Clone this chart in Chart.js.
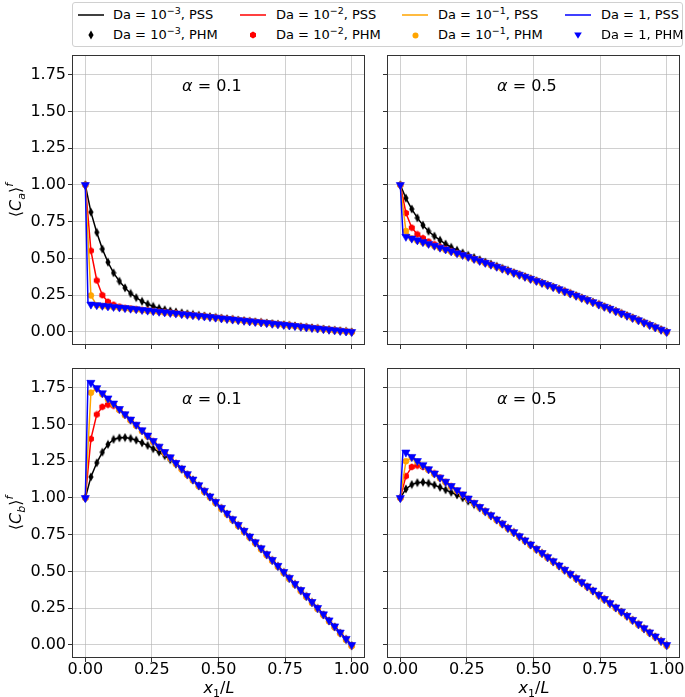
<!DOCTYPE html>
<html>
<head>
<meta charset="utf-8">
<script src="https://cdn.jsdelivr.net/npm/chart.js@4.4.1/dist/chart.umd.min.js"></script>
<style>
  html, body { margin: 0; padding: 0; background: #fff; }
  #fig { position: relative; width: 685px; height: 697px; overflow: hidden; font-family: "DejaVu Sans", sans-serif; color: #000; }
  #fig canvas { position: absolute; left: 0; top: 0; }
  #legendBox { position: absolute; left: 72px; top: 2px; width: 609px; height: 43px; border: 1px solid #d0d0d0; border-radius: 3px; background: #fff; }
  .lg { position: absolute; font-size: 13px; line-height: 16px; white-space: nowrap; }
  .lg sup { font-size: 9.5px; line-height: 0; vertical-align: 5px; }
  .hd { position: absolute; line-height: 0; }
  .title { position: absolute; font-size: 16px; line-height: 20px; white-space: nowrap; transform: translate(-50%, -50%); }
  .title.rot { transform: translate(-50%, -50%) rotate(-90deg); }
  .title sub { font-size: 11px; line-height: 0; vertical-align: -4px; font-style: normal; }
  .title sup { font-size: 11px; line-height: 0; vertical-align: 8px; }
</style>
</head>
<body>
<div id="fig">
  <canvas id="pTL" width="685" height="697"></canvas>
  <canvas id="pTR" width="685" height="697"></canvas>
  <canvas id="pBL" width="685" height="697"></canvas>
  <canvas id="pBR" width="685" height="697"></canvas>
  <div id="legendBox"></div>
  <div class="title rot" style="left:16px;top:200px">⟨<i>C</i><sub><i>a</i></sub>⟩<sup><i>f</i></sup></div>
  <div class="title rot" style="left:16px;top:513px">⟨<i>C</i><sub><i>b</i></sub>⟩<sup><i>f</i></sup></div>
  <div class="title" style="left:219px;top:688px"><i>x</i><sub>1</sub>/<i>L</i></div>
  <div class="title" style="left:534px;top:688px"><i>x</i><sub>1</sub>/<i>L</i></div>
</div>
<script>
// x positions of the PHM points (PSS lines share them, plus one early point for Da = 1)
const xPhm = [0, 0.021, 0.043, 0.064, 0.085, 0.106, 0.128, 0.149, 0.170, 0.191, 0.213, 0.234, 0.255, 0.277, 0.298, 0.319, 0.340, 0.362, 0.383, 0.404, 0.426, 0.447, 0.468, 0.489, 0.511, 0.532, 0.553, 0.574, 0.596, 0.617, 0.638, 0.660, 0.681, 0.702, 0.723, 0.745, 0.766, 0.787, 0.809, 0.830, 0.851, 0.872, 0.894, 0.915, 0.936, 0.957, 0.979, 1.0];
const earlyX = 0.01;

// <Ca>^f, alpha = 0.1
const ca01Da3 = [1.0, 0.815, 0.677, 0.564, 0.474, 0.402, 0.345, 0.300, 0.262, 0.233, 0.208, 0.189, 0.174, 0.161, 0.151, 0.143, 0.136, 0.130, 0.124, 0.119, 0.114, 0.109, 0.104, 0.099, 0.094, 0.090, 0.086, 0.081, 0.077, 0.073, 0.069, 0.065, 0.061, 0.057, 0.053, 0.049, 0.045, 0.041, 0.036, 0.032, 0.028, 0.024, 0.020, 0.016, 0.012, 0.008, 0.004, 0.0];
const ca01Da2 = [1.0, 0.553, 0.350, 0.250, 0.205, 0.185, 0.172, 0.164, 0.159, 0.155, 0.150, 0.146, 0.142, 0.138, 0.134, 0.130, 0.126, 0.122, 0.118, 0.114, 0.110, 0.106, 0.102, 0.098, 0.093, 0.089, 0.085, 0.081, 0.077, 0.073, 0.069, 0.065, 0.061, 0.057, 0.053, 0.049, 0.045, 0.041, 0.036, 0.032, 0.028, 0.024, 0.020, 0.016, 0.012, 0.008, 0.004, 0.0];
const ca01Da1 = [1.0, 0.248, 0.181, 0.176, 0.172, 0.168, 0.164, 0.160, 0.156, 0.152, 0.147, 0.143, 0.139, 0.135, 0.131, 0.127, 0.123, 0.119, 0.115, 0.111, 0.107, 0.103, 0.099, 0.095, 0.090, 0.086, 0.082, 0.078, 0.074, 0.070, 0.066, 0.062, 0.058, 0.054, 0.050, 0.046, 0.042, 0.038, 0.033, 0.029, 0.025, 0.021, 0.017, 0.013, 0.009, 0.005, 0.002, -0.002];
const ca01Da0 = [1.0, 0.187, 0.183, 0.179, 0.175, 0.171, 0.167, 0.163, 0.159, 0.155, 0.150, 0.146, 0.142, 0.138, 0.134, 0.130, 0.126, 0.122, 0.118, 0.114, 0.110, 0.106, 0.102, 0.098, 0.093, 0.089, 0.085, 0.081, 0.077, 0.073, 0.069, 0.065, 0.061, 0.057, 0.053, 0.049, 0.045, 0.041, 0.036, 0.032, 0.028, 0.024, 0.020, 0.016, 0.012, 0.008, 0.004, 0.0];
const ca01Early = 0.20;

// <Ca>^f, alpha = 0.5
const ca05Da3 = [1.0, 0.910, 0.836, 0.776, 0.726, 0.685, 0.652, 0.624, 0.598, 0.576, 0.556, 0.538, 0.522, 0.506, 0.491, 0.476, 0.462, 0.447, 0.433, 0.419, 0.403, 0.390, 0.376, 0.362, 0.348, 0.334, 0.320, 0.306, 0.291, 0.276, 0.262, 0.247, 0.232, 0.218, 0.203, 0.187, 0.172, 0.158, 0.142, 0.126, 0.111, 0.096, 0.080, 0.064, 0.048, 0.032, 0.016, 0.0];
const ca05Da2 = [1.0, 0.809, 0.709, 0.664, 0.638, 0.615, 0.596, 0.579, 0.564, 0.550, 0.536, 0.524, 0.511, 0.497, 0.484, 0.471, 0.458, 0.444, 0.431, 0.417, 0.403, 0.390, 0.376, 0.362, 0.348, 0.334, 0.320, 0.306, 0.291, 0.276, 0.262, 0.247, 0.232, 0.218, 0.203, 0.187, 0.172, 0.158, 0.142, 0.126, 0.111, 0.096, 0.080, 0.064, 0.048, 0.032, 0.016, 0.0];
const ca05Da1 = [1.0, 0.686, 0.636, 0.620, 0.608, 0.596, 0.583, 0.570, 0.558, 0.545, 0.532, 0.520, 0.507, 0.493, 0.480, 0.467, 0.454, 0.440, 0.427, 0.413, 0.399, 0.386, 0.372, 0.358, 0.344, 0.330, 0.316, 0.302, 0.287, 0.272, 0.258, 0.243, 0.228, 0.214, 0.199, 0.183, 0.168, 0.154, 0.138, 0.122, 0.107, 0.092, 0.076, 0.060, 0.044, 0.028, 0.012, -0.004];
const ca05Da0 = [1.0, 0.648, 0.636, 0.624, 0.612, 0.600, 0.587, 0.574, 0.562, 0.549, 0.536, 0.524, 0.511, 0.497, 0.484, 0.471, 0.458, 0.444, 0.431, 0.417, 0.403, 0.390, 0.376, 0.362, 0.348, 0.334, 0.320, 0.306, 0.291, 0.276, 0.262, 0.247, 0.232, 0.218, 0.203, 0.187, 0.172, 0.158, 0.142, 0.126, 0.111, 0.096, 0.080, 0.064, 0.048, 0.032, 0.016, 0.0];
const ca05Early = 0.66;

// <Cb>^f, alpha = 0.1
const cb01Da3 = [1.0, 1.143, 1.239, 1.311, 1.364, 1.398, 1.409, 1.411, 1.405, 1.393, 1.375, 1.357, 1.335, 1.312, 1.287, 1.260, 1.230, 1.195, 1.159, 1.123, 1.083, 1.045, 1.007, 0.969, 0.929, 0.891, 0.852, 0.813, 0.773, 0.734, 0.695, 0.654, 0.614, 0.575, 0.535, 0.493, 0.453, 0.412, 0.370, 0.330, 0.289, 0.248, 0.205, 0.164, 0.123, 0.081, 0.038, -0.004];
const cb01Da2 = [1.0, 1.402, 1.568, 1.620, 1.634, 1.628, 1.600, 1.566, 1.530, 1.495, 1.457, 1.421, 1.384, 1.346, 1.309, 1.273, 1.235, 1.197, 1.159, 1.122, 1.083, 1.045, 1.007, 0.969, 0.929, 0.891, 0.852, 0.813, 0.773, 0.734, 0.695, 0.654, 0.614, 0.575, 0.535, 0.493, 0.453, 0.412, 0.370, 0.330, 0.289, 0.248, 0.205, 0.164, 0.123, 0.081, 0.038, -0.004];
const cb01Da1 = [1.0, 1.716, 1.743, 1.705, 1.670, 1.635, 1.598, 1.562, 1.526, 1.491, 1.453, 1.417, 1.380, 1.342, 1.305, 1.269, 1.231, 1.193, 1.155, 1.118, 1.079, 1.041, 1.003, 0.965, 0.925, 0.887, 0.848, 0.809, 0.769, 0.730, 0.691, 0.650, 0.610, 0.571, 0.531, 0.489, 0.449, 0.408, 0.366, 0.326, 0.285, 0.244, 0.201, 0.160, 0.119, 0.077, 0.034, -0.008];
const cb01Da0 = [1.0, 1.784, 1.748, 1.713, 1.678, 1.643, 1.606, 1.570, 1.534, 1.499, 1.461, 1.425, 1.388, 1.350, 1.313, 1.277, 1.239, 1.201, 1.163, 1.126, 1.087, 1.049, 1.011, 0.973, 0.933, 0.895, 0.856, 0.817, 0.777, 0.738, 0.699, 0.658, 0.618, 0.579, 0.539, 0.497, 0.457, 0.416, 0.374, 0.334, 0.293, 0.252, 0.209, 0.168, 0.127, 0.085, 0.042, 0.0];
const cb01Early = 1.795;

// <Cb>^f, alpha = 0.5
const cb05Da3 = [1.0, 1.061, 1.091, 1.104, 1.107, 1.100, 1.088, 1.072, 1.055, 1.038, 1.020, 1.000, 0.978, 0.955, 0.932, 0.907, 0.880, 0.851, 0.823, 0.794, 0.765, 0.737, 0.709, 0.681, 0.651, 0.623, 0.595, 0.567, 0.538, 0.509, 0.481, 0.452, 0.424, 0.396, 0.368, 0.338, 0.310, 0.282, 0.253, 0.224, 0.196, 0.168, 0.139, 0.111, 0.083, 0.055, 0.025, -0.003];
const cb05Da2 = [1.0, 1.148, 1.211, 1.220, 1.211, 1.193, 1.167, 1.139, 1.110, 1.079, 1.050, 1.022, 0.994, 0.964, 0.936, 0.908, 0.880, 0.851, 0.823, 0.794, 0.765, 0.737, 0.709, 0.681, 0.651, 0.623, 0.595, 0.567, 0.538, 0.509, 0.481, 0.452, 0.424, 0.396, 0.368, 0.338, 0.310, 0.282, 0.253, 0.224, 0.196, 0.168, 0.139, 0.111, 0.083, 0.055, 0.025, -0.003];
const cb05Da1 = [1.0, 1.250, 1.273, 1.246, 1.218, 1.190, 1.161, 1.133, 1.105, 1.076, 1.047, 1.019, 0.991, 0.961, 0.933, 0.905, 0.877, 0.848, 0.820, 0.791, 0.762, 0.734, 0.706, 0.678, 0.648, 0.620, 0.592, 0.564, 0.535, 0.506, 0.478, 0.449, 0.421, 0.393, 0.365, 0.335, 0.307, 0.279, 0.250, 0.221, 0.193, 0.165, 0.136, 0.108, 0.080, 0.052, 0.022, -0.006];
const cb05Da0 = [1.0, 1.310, 1.280, 1.252, 1.224, 1.196, 1.167, 1.139, 1.111, 1.082, 1.053, 1.025, 0.997, 0.967, 0.939, 0.911, 0.883, 0.854, 0.826, 0.797, 0.768, 0.740, 0.712, 0.684, 0.654, 0.626, 0.598, 0.570, 0.541, 0.512, 0.484, 0.455, 0.427, 0.399, 0.371, 0.341, 0.313, 0.285, 0.256, 0.227, 0.199, 0.171, 0.142, 0.114, 0.086, 0.058, 0.028, 0.0];
const cb05Early = 1.318;

const xTicks = [0, 0.25, 0.5, 0.75, 1.0];
const yTicks = [0, 0.25, 0.5, 0.75, 1.0, 1.25, 1.5, 1.75];
const daLabels = ['10<sup>−3</sup>', '10<sup>−2</sup>', '10<sup>−1</sup>', '1'];
const alphaValues = ['0.1', '0.5'];

const daColors = ['#000000', '#ff0000', '#ffa500', '#0000ff'];
const gridColor = 'rgba(176,176,176,0.6)';
const axisColor = '#333333';
const fontFamily = '"DejaVu Sans", sans-serif';

function markerCanvas(w, h, draw) {
  const c = document.createElement('canvas');
  c.width = w;
  c.height = h;
  draw(c.getContext('2d'));
  return c;
}

// thin diamond (black) and hexagon (red) markers
const diamondImg = markerCanvas(6, 10, function(g) {
  g.fillStyle = daColors[0];
  g.beginPath();
  g.moveTo(3, 0.5); g.lineTo(5.6, 5); g.lineTo(3, 9.5); g.lineTo(0.4, 5);
  g.closePath();
  g.fill();
});
const hexImg = markerCanvas(8, 8, function(g) {
  g.fillStyle = daColors[1];
  g.beginPath();
  for (let k = 0; k < 6; k++) {
    const a = -Math.PI / 2 + k * Math.PI / 3;
    const px = 4 + 3.5 * Math.cos(a), py = 4 + 3.5 * Math.sin(a);
    if (k === 0) g.moveTo(px, py); else g.lineTo(px, py);
  }
  g.closePath();
  g.fill();
});
const markerStyles = [diamondImg, hexImg, 'circle', 'triangle'];
const markerRadius = [4, 4, 3, 4.7];
const markerRotation = [0, 0, 0, 180];

const framePlugin = {
  id: 'frame',
  afterDatasetsDraw(chart) {
    const a = chart.chartArea;
    const ctx = chart.ctx;
    ctx.save();
    ctx.strokeStyle = axisColor;
    ctx.lineWidth = 1;
    ctx.strokeRect(a.left + 0.5, a.top + 0.5, a.right - a.left - 1, a.bottom - a.top - 1);
    ctx.restore();
  }
};

const alphaPlugin = {
  id: 'alphaLabel',
  afterDatasetsDraw(chart, args, opts) {
    const ctx = chart.ctx;
    const px = chart.scales.x.getPixelForValue(opts.x);
    const py = chart.scales.y.getPixelForValue(opts.y);
    const rest = ' = ' + opts.value;
    ctx.save();
    ctx.fillStyle = '#000';
    ctx.textBaseline = 'middle';
    ctx.textAlign = 'left';
    ctx.font = 'italic 16px ' + fontFamily;
    const wa = ctx.measureText('α').width;
    ctx.font = '16px ' + fontFamily;
    const wr = ctx.measureText(rest).width;
    const x0 = px - (wa + wr) / 2;
    ctx.font = 'italic 16px ' + fontFamily;
    ctx.fillText('α', x0, py);
    ctx.font = '16px ' + fontFamily;
    ctx.fillText(rest, x0 + wa, py);
    ctx.restore();
  }
};

function makePanel(id, series, early, alphaText, area, showX, showY) {
  const yW = showY ? 60 : 10;
  const xH = showX ? 30 : 10;
  const datasets = [];
  series.forEach(function(vals, k) {
    const pts = xPhm.map(function(x, i) { return { x: x, y: vals[i] }; });
    let linePts = pts;
    if (k === 3) {
      linePts = [pts[0], { x: earlyX, y: early }].concat(pts.slice(1));
    }
    datasets.push({
      data: linePts,
      showLine: true,
      borderColor: daColors[k],
      borderWidth: 1.5,
      pointRadius: 0,
      order: 20 - 2 * k
    });
    datasets.push({
      data: pts,
      showLine: false,
      pointStyle: markerStyles[k],
      pointRadius: markerRadius[k],
      pointRotation: markerRotation[k],
      backgroundColor: daColors[k],
      borderColor: daColors[k],
      borderWidth: 0.6,
      order: 19 - 2 * k
    });
  });

  const tickFont = { family: fontFamily, size: 16, lineHeight: 1 };

  return new Chart(document.getElementById(id).getContext('2d'), {
    type: 'scatter',
    data: { datasets: datasets },
    plugins: [framePlugin, alphaPlugin],
    options: {
      responsive: false,
      animation: false,
      events: [],
      layout: {
        autoPadding: false,
        padding: {
          left: area.left - yW,
          top: area.top,
          right: 685 - area.right,
          bottom: 697 - area.bottom - xH
        }
      },
      plugins: {
        legend: { display: false },
        tooltip: { enabled: false },
        alphaLabel: { x: 0.475, y: 1.665, value: alphaText }
      },
      scales: {
        x: {
          type: 'linear',
          min: -0.05,
          max: 1.05,
          afterBuildTicks: function(s) { s.ticks = xTicks.map(function(v) { return { value: v }; }); },
          afterFit: function(s) { s.height = xH; s.paddingLeft = 0; s.paddingRight = 0; },
          border: { display: false },
          grid: { color: gridColor, lineWidth: 1, drawTicks: true, tickLength: 4, tickColor: axisColor, tickWidth: 1 },
          ticks: {
            display: showX, color: '#000', font: tickFont, padding: 0,
            maxRotation: 0, autoSkip: false,
            callback: function(v) { return Number(v).toFixed(2); }
          }
        },
        y: {
          type: 'linear',
          min: -0.089,
          max: 1.884,
          afterBuildTicks: function(s) { s.ticks = yTicks.map(function(v) { return { value: v }; }); },
          afterFit: function(s) { s.width = yW; s.paddingTop = 0; s.paddingBottom = 0; },
          border: { display: false },
          grid: { color: gridColor, lineWidth: 1, drawTicks: true, tickLength: 4, tickColor: axisColor, tickWidth: 1 },
          ticks: {
            display: showY, color: '#000', font: tickFont, padding: 2,
            autoSkip: false,
            callback: function(v) { return Number(v).toFixed(2); }
          }
        }
      }
    }
  });
}

makePanel('pTL', [ca01Da3, ca01Da2, ca01Da1, ca01Da0], ca01Early, alphaValues[0],
  { left: 72, top: 55, right: 365, bottom: 345 }, false, true);
makePanel('pTR', [ca05Da3, ca05Da2, ca05Da1, ca05Da0], ca05Early, alphaValues[1],
  { left: 387, top: 55, right: 680, bottom: 345 }, false, false);
makePanel('pBL', [cb01Da3, cb01Da2, cb01Da1, cb01Da0], cb01Early, alphaValues[0],
  { left: 72, top: 368, right: 365, bottom: 658 }, true, true);
makePanel('pBR', [cb05Da3, cb05Da2, cb05Da1, cb05Da0], cb05Early, alphaValues[1],
  { left: 387, top: 368, right: 680, bottom: 658 }, true, false);

// legend: two rows (PSS lines, PHM markers) by four Da columns
const fig = document.getElementById('fig');
const handleLeft = [78, 240, 402, 565];
const textLeft = [113, 276, 438, 601];
const rowY = [15, 35];
const markerSvg = [
  '<svg width="6" height="10"><polygon points="3,0.5 5.6,5 3,9.5 0.4,5" fill="#000000"/></svg>',
  '<svg width="8" height="8"><polygon points="4,0.5 7,2.25 7,5.75 4,7.5 1,5.75 1,2.25" fill="#ff0000"/></svg>',
  '<svg width="7" height="7"><circle cx="3.5" cy="3.5" r="3" fill="#ffa500"/></svg>',
  '<svg width="8" height="7"><polygon points="0.2,0.4 7.8,0.4 4,6.8" fill="#0000ff"/></svg>'
];
const markerSize = [[6, 10], [8, 8], [7, 7], [8, 7]];
daLabels.forEach(function(lbl, k) {
  const line = document.createElement('div');
  line.className = 'hd';
  line.style.left = handleLeft[k] + 'px';
  line.style.top = (rowY[0] - 5) + 'px';
  line.innerHTML = '<svg width="26" height="10"><line x1="0" y1="5" x2="26" y2="5" stroke="' +
    daColors[k] + '" stroke-width="1.5"/></svg>';
  fig.appendChild(line);

  const mk = document.createElement('div');
  mk.className = 'hd';
  mk.style.left = (handleLeft[k] + 13 - markerSize[k][0] / 2) + 'px';
  mk.style.top = (rowY[1] - markerSize[k][1] / 2) + 'px';
  mk.innerHTML = markerSvg[k];
  fig.appendChild(mk);

  ['PSS', 'PHM'].forEach(function(kind, r) {
    const t = document.createElement('div');
    t.className = 'lg';
    t.style.left = textLeft[k] + 'px';
    t.style.top = (rowY[r] - 8) + 'px';
    t.innerHTML = 'Da = ' + lbl + ', ' + kind;
    fig.appendChild(t);
  });
});
</script>
</body>
</html>
